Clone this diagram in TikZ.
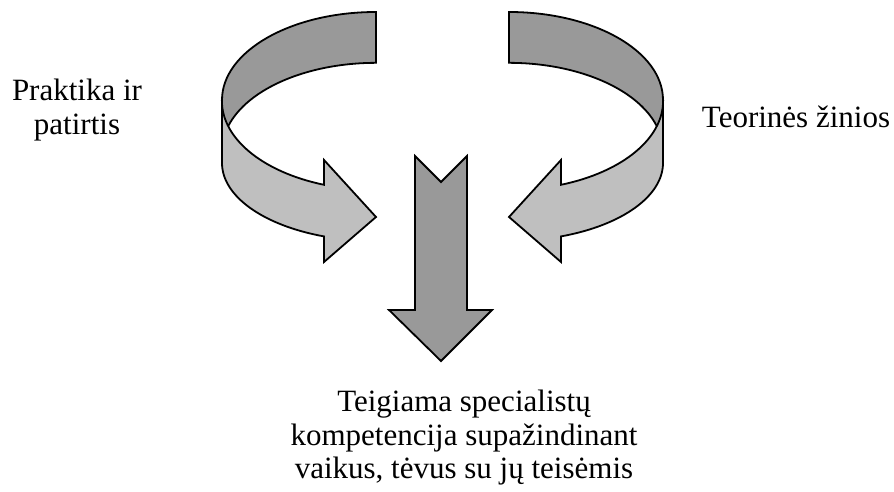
\documentclass[tikz,border=0pt]{standalone}
\usepackage{fontspec}
\setmainfont{Liberation Serif}

\begin{document}
\begin{tikzpicture}[x=1pt,y=1pt,
	every node/.style={font=\fontsize{31}{33.5}\selectfont, inner sep=0pt},
	back/.style={draw, line width=1.8pt, fill=black!40},
	front/.style={draw, line width=1.8pt, fill=black!25}]
	\useasboundingbox (0,0) rectangle (894,492);
	% left ribbon
	\draw[back] (376,480) arc[start angle=90,end angle=180,x radius=154,y radius=88]
		-- (222,366) -- (228.3,366) arc[start angle=163.6,end angle=90,x radius=154,y radius=88] -- cycle;
	\draw[front] (222,391) -- (222,329) arc[start angle=180,end angle=250.3,x radius=154,y radius=78]
		-- (324,230) -- (376,275) -- (324,332) -- (324,307.2)
		arc[start angle=250.3,end angle=180,x radius=154,y radius=89] -- cycle;
	% right ribbon
	\draw[back] (509,480) arc[start angle=90,end angle=0,x radius=154,y radius=88]
		-- (663,366) -- (656.7,366) arc[start angle=16.4,end angle=90,x radius=154,y radius=88] -- cycle;
	\draw[front] (663,391) -- (663,329) arc[start angle=0,end angle=-70.3,x radius=154,y radius=78]
		-- (561,230) -- (509,275) -- (561,332) -- (561,307.2)
		arc[start angle=-70.3,end angle=0,x radius=154,y radius=89] -- cycle;
	% middle arrow
	\draw[back] (415,336) -- (441,310) -- (467,336) -- (467,182) -- (492,182)
		-- (441,131) -- (389,182) -- (415,182) -- cycle;
	\node[align=center, anchor=north] (praktika) at (77,413.2) {Praktika ir\\patirtis};
	\node[anchor=base] (teorija) at (796,364) {Teorinės žinios};
	\node[align=center, anchor=north] (kompetencija) at (464,102.2)
		{Teigiama specialistų\\kompetencija supažindinant\\vaikus, tėvus su jų teisėmis};
\end{tikzpicture}
\end{document}
